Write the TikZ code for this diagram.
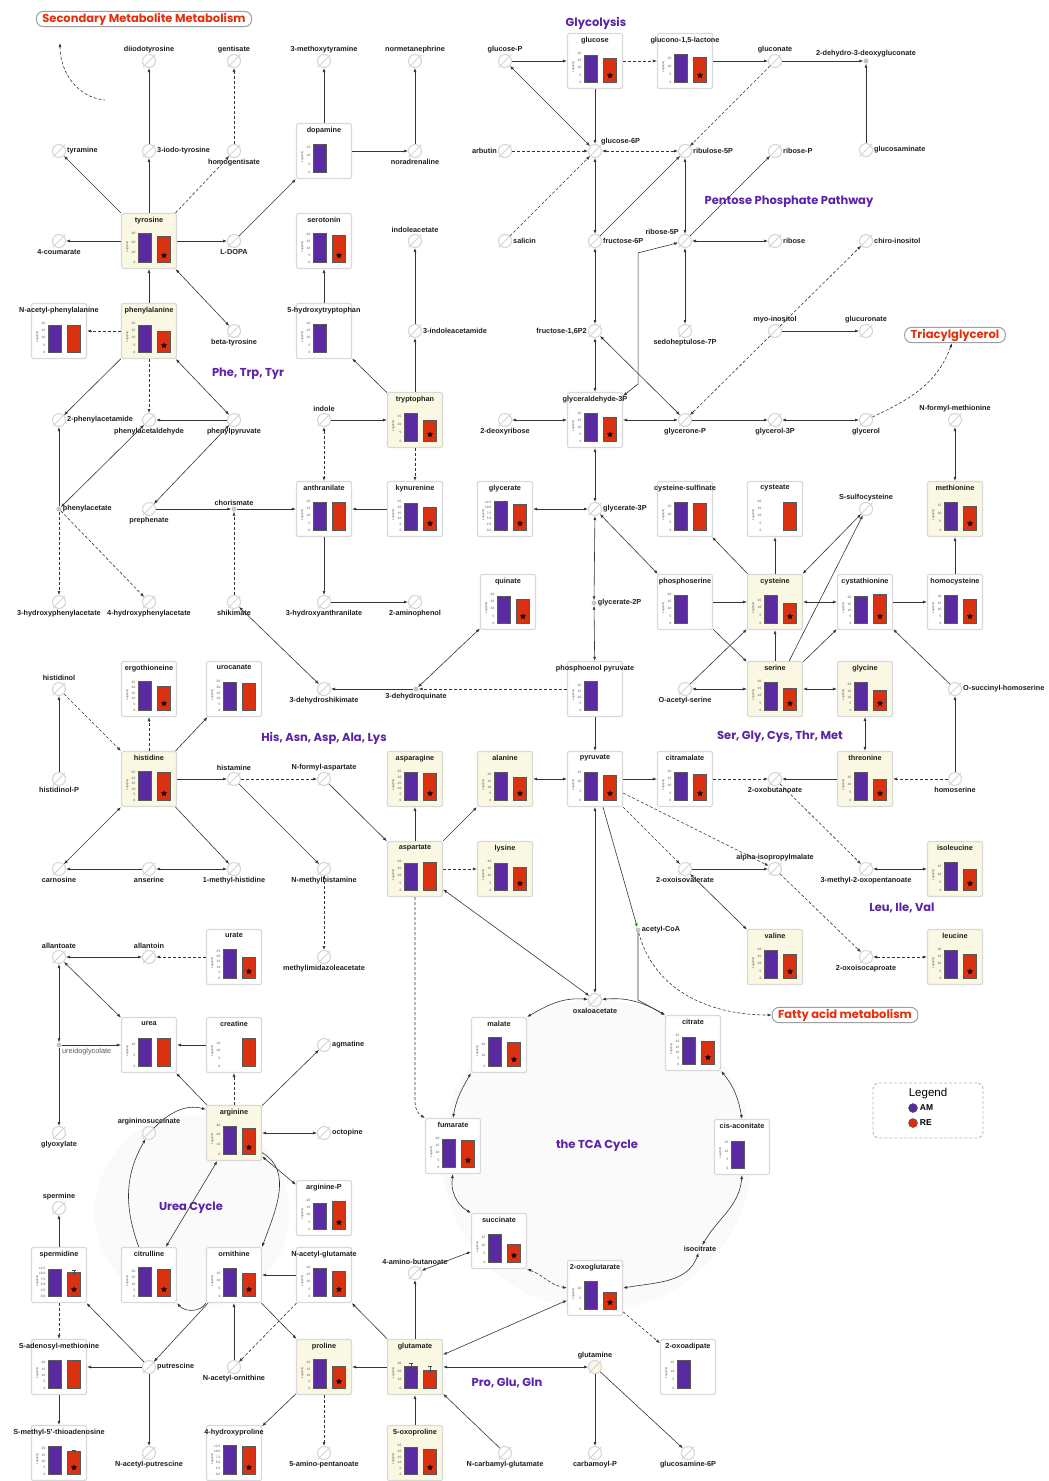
\documentclass[tikz,border=0pt]{standalone}
\usepackage{fontspec}
\setmainfont{Liberation Sans}
\newfontfamily\grpfont{Poppins}
\usetikzlibrary{positioning,arrows.meta,shapes.geometric}

\definecolor{amc}{HTML}{5A2BA0}
\definecolor{rec}{HTML}{DA3210}
\definecolor{creamc}{HTML}{FAF7E3}
\definecolor{boxc}{HTML}{D9D9D9}
\definecolor{voidc}{HTML}{D4D4D4}
\definecolor{linec}{HTML}{353535}
\definecolor{grpc}{HTML}{5B23A6}
\definecolor{titc}{HTML}{E2300C}
\definecolor{cyclec}{HTML}{FAFAFA}

% tick lists: value/label
\def\tkA{0/0,5/5,10/10,15/15,20/20}
\def\tkB{0/0,5/5,10/10,15/15}
\def\tkC{0/0,5/5,10/10,15/15,20/20,25/25}
\def\tkD{0/0,10/10,20/20,30/30}
\def\tkE{0/0.0,2.5/2.5,5/5.0,7.5/7.5,10/10.0,12.5/12.5}
\def\tkF{0/0,5/5,10/10}
\def\tkG{0/0,10/10,20/20}

% name, position, title, fill, ymax, ticks, AM, RE, star
\newcommand{\metab}[9]{%
  \node[mbox,#4,label={[ttl]north:#3}] (#1) at (#2) {};
  \foreach \v/\l in #6 {\path (#1.center) ++(-13,{-21+29*\v/#5}) node[ticklbl] {\l};}
  \path (#1.center) ++(-21.5,-6) node[ylab] {Log2(int)};
  \ifdim #7pt>0pt \draw[ambar] (#1.center) ++(-10.5,-21) rectangle ++(13,{29*#7/#5});\fi
  \ifdim #8pt>0pt \draw[rebar] (#1.center) ++(8.5,-21) rectangle ++(13,{29*#8/#5});\fi
  \ifnum #9=1 \path (#1.center) ++(15,-14.5) node[sigstar] {};\fi
}
% node, x offset, ymax, low, high
\newcommand{\errbar}[5]{%
  \draw[errb] (#1.center) ++(#2,{-21+29*#4/#3}) -- ++(0,{29*(#5-#4)/#3}) ++(-2,0) -- ++(4,0);
}

\begin{document}
\begin{tikzpicture}[x=1pt,y=1pt,
  >={Latex[length=4pt,width=3pt]},
  mbox/.style={draw=boxc,line width=1.2pt,rounded corners=2pt,minimum width=55pt,minimum height=55pt,inner sep=0pt},
  creambox/.style={fill=creamc},
  whitebox/.style={fill=white},
  ttl/.style={font=\fontsize{7.3}{8}\selectfont\bfseries,text=black!88,anchor=north,yshift=-3pt,inner sep=1pt},
  ticklbl/.style={font=\fontsize{3.2}{3.5}\selectfont,text=black!70,anchor=east,inner sep=0.5pt},
  ylab/.style={font=\fontsize{2.8}{3}\selectfont,text=black!70,rotate=90,inner sep=0pt},
  ambar/.style={fill=amc,draw=black!65,line width=0.35pt},
  rebar/.style={fill=rec,draw=black!65,line width=0.35pt},
  errb/.style={draw=black!70,line width=0.4pt},
  sigstar/.style={star,star points=5,star point ratio=2.3,fill=black,minimum size=6.5pt,inner sep=0pt},
  voidline/.style={draw=voidc,line width=1pt,shorten <=-2pt,shorten >=-2pt},
  voidnode/.style={circle,draw=voidc,line width=1pt,minimum size=13pt,inner sep=0pt,label distance=4.5pt,
    append after command={(\tikzlastnode.south west) edge[voidline] (\tikzlastnode.north east)}},
  minidot/.style={circle,fill=gray!45,minimum size=5pt,inner sep=0pt,label distance=2.5pt},
  lbl/.style={font=\fontsize{7.3}{8}\selectfont\bfseries,text=black!88,inner sep=1pt},
  conn/.style={draw=linec,line width=0.6pt,->},
  dconn/.style={conn,dash pattern=on 3pt off 2pt},
  biconn/.style={draw=linec,line width=0.6pt,<->},
  dbiconn/.style={biconn,dash pattern=on 3pt off 2pt},
  grp/.style={font=\grpfont\fontsize{11.5}{13}\selectfont\bfseries,text=grpc},
  pathbox/.style={draw=gray!75,line width=1pt,rounded corners=7pt,fill=white,text=titc,
    font=\grpfont\fontsize{11.5}{12}\selectfont\bfseries,inner xsep=6pt,inner ysep=1.5pt},
  legendbox/.style={draw=gray!55,dash pattern=on 3pt off 2pt,line width=0.9pt,rounded corners=6pt,minimum width=110pt,minimum height=55pt},
  legdot/.style={circle,draw=black!70,line width=0.4pt,minimum size=9pt,inner sep=0pt}]

\fill[white] (0,0) rectangle (1049,-1481);
\useasboundingbox (0,0) rectangle (1049,-1481);

% cycle backgrounds
\fill[cyclec] (597,-1155) circle[radius=155pt];
\fill[cyclec] (192,-1212) circle[radius=97pt];

% pathway titles
\node[pathbox] (secmet) at (144,-19) {Secondary Metabolite Metabolism};
\node[pathbox] (tag) at (955,-335) {Triacylglycerol};
\node[pathbox] (fam) at (845,-1015) {Fatty acid metabolism};
\node[grp] (glycol) at (596,-23) {Glycolysis};
\node[grp] (ppp) at (789,-202) {Pentose Phosphate Pathway};
\node[grp] (aroma) at (248,-374) {Phe, Trp, Tyr};
\node[grp] (hisgrp) at (324,-738) {His, Asn, Asp, Ala, Lys};
\node[grp] (sergrp) at (780,-737) {Ser, Gly, Cys, Thr, Met};
\node[grp] (bcaa) at (902,-908) {Leu, Ile, Val};
\node[grp] (ureacyc) at (191,-1208) {Urea Cycle};
\node[grp] (tca) at (597,-1146) {the TCA Cycle};
\node[grp] (glugrp) at (507,-1383) {Pro, Glu, Gln};

% measured metabolites
\metab{glc}{595,-61}{glucose}{whitebox}{20.5}{\tkA}{19}{16.5}{1}
\metab{glnl}{685,-61}{glucono-1,5-lactone}{whitebox}{18.5}{\tkB}{18}{16}{1}
\metab{dopa}{324,-151}{dopamine}{whitebox}{18}{\tkB}{17.5}{0}{0}
\metab{tyr}{149,-241}{tyrosine}{creambox}{30}{\tkD}{30}{27}{1}
\metab{sero}{324,-241}{serotonin}{whitebox}{21}{\tkA}{21}{19.5}{1}
\metab{phe}{149,-331}{phenylalanine}{creambox}{20.5}{\tkA}{19}{14.5}{1}
\metab{nacphe}{59,-331}{N-acetyl-phenylalanine}{whitebox}{20.5}{\tkA}{19}{19}{0}
\metab{htrp}{324,-331}{5-hydroxytryptophan}{whitebox}{20.5}{\tkA}{19.5}{0}{0}
\metab{trp}{415,-420}{tryptophan}{creambox}{17.5}{\tkB}{16.5}{12.5}{1}
\metab{gap}{595,-420}{glyceraldehyde-3P}{whitebox}{21}{\tkA}{20.5}{17}{1}
\metab{anth}{324,-509}{anthranilate}{whitebox}{20.5}{\tkA}{19.5}{20}{0}
\metab{kyn}{415,-509}{kynurenine}{whitebox}{25.5}{\tkC}{23.5}{20}{1}
\metab{glyc}{505,-509}{glycerate}{whitebox}{13}{\tkE}{13}{11.5}{1}
\metab{cysulf}{685,-509}{cysteine-sulfinate}{whitebox}{18.5}{\tkB}{17.5}{17}{0}
\metab{cyst}{775,-509}{cysteate}{whitebox}{20.5}{\tkA}{0}{19.5}{0}
\metab{met}{955,-509}{methionine}{creambox}{17.5}{\tkB}{16.5}{14.5}{1}
\metab{quin}{508,-602}{quinate}{whitebox}{20.5}{\tkA}{19}{17}{1}
\metab{pser}{685,-602}{phosphoserine}{whitebox}{20.5}{\tkA}{20}{0}{0}
\metab{cys}{775,-602}{cysteine}{creambox}{19}{\tkB}{18.5}{13}{1}
\metab{cysth}{865,-602}{cystathionine}{whitebox}{23}{\tkA}{21}{23}{1}
\metab{hcys}{955,-602}{homocysteine}{whitebox}{22}{\tkA}{21}{18}{1}
\metab{ergo}{149,-689}{ergothioneine}{whitebox}{26}{\tkC}{25.5}{21.5}{1}
\metab{uroc}{234,-689}{urocanate}{whitebox}{25.5}{\tkC}{24.5}{23.5}{0}
\metab{pep}{595,-689}{phosphoenol pyruvate}{whitebox}{23.5}{\tkA}{23}{0}{0}
\metab{ser}{775,-689}{serine}{creambox}{20.5}{\tkA}{20}{15.5}{1}
\metab{gly}{865,-689}{glycine}{creambox}{23}{\tkA}{22}{16}{1}
\metab{his}{149,-779}{histidine}{creambox}{26.5}{\tkC}{26}{25}{1}
\metab{asn}{415,-779}{asparagine}{creambox}{25.5}{\tkC}{24.5}{23.5}{1}
\metab{ala}{505,-779}{alanine}{creambox}{23}{\tkA}{22}{18}{1}
\metab{pyr}{595,-779}{pyruvate}{whitebox}{16}{\tkB}{15.5}{13.5}{1}
\metab{citm}{685,-779}{citramalate}{whitebox}{20.5}{\tkA}{20}{18}{1}
\metab{thr}{865,-779}{threonine}{creambox}{19}{\tkB}{18}{13.5}{1}
\metab{asp}{415,-869}{aspartate}{creambox}{20.5}{\tkA}{19}{19.5}{0}
\metab{lys}{505,-869}{lysine}{creambox}{20.5}{\tkA}{19}{16}{1}
\metab{ile}{955,-869}{isoleucine}{creambox}{18.5}{\tkB}{17.5}{13}{1}
\metab{val}{775,-957}{valine}{creambox}{20.5}{\tkA}{20}{16.5}{1}
\metab{leu}{955,-957}{leucine}{creambox}{20.5}{\tkA}{20}{16.5}{1}
\metab{urate}{234,-957}{urate}{whitebox}{27}{\tkC}{26.5}{19.5}{1}
\metab{urea}{149,-1045}{urea}{whitebox}{13.5}{\tkF}{13}{13}{0}
\metab{crea}{234,-1045}{creatine}{whitebox}{19}{\tkB}{0}{18}{0}
\metab{mal}{499,-1045}{malate}{whitebox}{27}{\tkG}{27}{22.5}{1}
\metab{cit}{693,-1043}{citrate}{whitebox}{25.5}{\tkC}{24}{20}{1}
\metab{arg}{234,-1133}{arginine}{creambox}{30}{\tkD}{28.5}{27}{1}
\metab{fum}{453,-1146}{fumarate}{whitebox}{20.5}{\tkA}{20}{19}{1}
\metab{cisac}{742,-1147}{cis-aconitate}{whitebox}{17}{\tkB}{16}{0}{0}
\metab{argp}{324,-1208}{arginine-P}{whitebox}{20.5}{\tkA}{18.5}{20}{1}
\metab{succ}{499,-1241}{succinate}{whitebox}{17.5}{\tkB}{17}{11}{1}
\metab{spmd}{59,-1275}{spermidine}{whitebox}{13}{\tkE}{12}{10.5}{1}
\metab{citr}{149,-1275}{citrulline}{whitebox}{24}{\tkA}{23.5}{22.5}{1}
\metab{orn}{234,-1275}{ornithine}{whitebox}{19}{\tkB}{18.5}{15}{1}
\metab{nacglu}{324,-1275}{N-acetyl-glutamate}{whitebox}{20.5}{\tkA}{20}{17.5}{1}
\metab{oxoglu}{595,-1288}{2-oxoglutarate}{whitebox}{14}{\tkF}{13.5}{8.2}{1}
\metab{sam}{59,-1367}{S-adenosyl-methionine}{whitebox}{23}{\tkA}{22}{22}{0}
\metab{pro}{324,-1367}{proline}{creambox}{23}{\tkA}{22.5}{17.5}{1}
\metab{glu}{415,-1367}{glutamate}{creambox}{35}{\tkD}{26}{22}{0}
\metab{oxoadip}{688,-1367}{2-oxoadipate}{whitebox}{17}{\tkB}{16.5}{0}{0}
\metab{mta}{59,-1453}{S-methyl-5'-thioadenosine}{whitebox}{23}{\tkA}{22}{18}{1}
\metab{hypro}{234,-1453}{4-hydroxyproline}{whitebox}{13}{\tkE}{13}{12.5}{1}
\metab{oxopro}{415,-1453}{5-oxoproline}{creambox}{25.5}{\tkC}{24}{22}{1}
\errbar{glu}{-4}{35}{22}{30}
\errbar{glu}{15}{35}{18}{26}
\errbar{spmd}{15}{13}{9.5}{11.5}
\errbar{mta}{15}{23}{17}{19}

% not measured
\node[voidnode,label={[lbl]above:diiodotyrosine}] (diiodo) at (149,-61) {};
\node[voidnode,label={[lbl]above:gentisate}] (gentis) at (234,-61) {};
\node[voidnode,label={[lbl]above:3-methoxytyramine}] (methoxy) at (324,-61) {};
\node[voidnode,label={[lbl]above:normetanephrine}] (normet) at (415,-61) {};
\node[voidnode,label={[lbl]above:glucose-P}] (glcp) at (505,-61) {};
\node[voidnode,label={[lbl]above:gluconate}] (gluconate) at (775,-61) {};
\node[minidot,label={[lbl]above:2-dehydro-3-deoxygluconate}] (dhdg) at (866,-61) {};
\node[voidnode,label={[lbl]right:tyramine}] (tyramine) at (59,-151) {};
\node[voidnode,label={[lbl]right:3-iodo-tyrosine}] (iodotyr) at (149,-151) {};
\node[voidnode,label={[lbl]below:homogentisate}] (homogen) at (234,-151) {};
\node[voidnode,label={[lbl]below:noradrenaline}] (noradr) at (415,-151) {};
\node[voidnode,label={[lbl]left:arbutin}] (arbutin) at (505,-151) {};
\node[voidnode,label={[lbl]above right:glucose-6P}] (g6p) at (595,-151) {};
\node[voidnode,label={[lbl]right:ribulose-5P}] (ru5p) at (685,-151) {};
\node[voidnode,label={[lbl]right:ribose-P}] (ribp) at (775,-151) {};
\node[voidnode,label={[lbl]right:glucosaminate}] (glcnt) at (866,-150) {};
\node[voidnode,label={[lbl]below:4-coumarate}] (coum) at (59,-241) {};
\node[voidnode,label={[lbl]below:L-DOPA}] (ldopa) at (234,-241) {};
\node[voidnode,label={[lbl]above:indoleacetate}] (iaa) at (415,-241) {};
\node[voidnode,label={[lbl]right:salicin}] (salicin) at (505,-241) {};
\node[voidnode,label={[lbl]right:fructose-6P}] (f6p) at (595,-241) {};
\node[voidnode,label={[lbl]above left:ribose-5P}] (r5p) at (685,-241) {};
\node[voidnode,label={[lbl]right:ribose}] (ribose) at (775,-241) {};
\node[voidnode,label={[lbl]right:chiro-inositol}] (chiro) at (866,-241) {};
\node[voidnode,label={[lbl]below:beta-tyrosine}] (btyr) at (234,-331) {};
\node[voidnode,label={[lbl]right:3-indoleacetamide}] (iam) at (415,-331) {};
\node[voidnode,label={[lbl]left:fructose-1,6P2}] (fbp) at (595,-331) {};
\node[voidnode,label={[lbl]below:sedoheptulose-7P}] (s7p) at (685,-331) {};
\node[voidnode,label={[lbl]above:myo-inositol}] (myo) at (775,-331) {};
\node[voidnode,label={[lbl]above:glucuronate}] (glcur) at (866,-331) {};
\node[voidnode,label={[lbl]right:2-phenylacetamide}] (pacm) at (59,-420) {};
\node[voidnode,label={[lbl]below:phenylacetaldehyde}] (pacald) at (149,-420) {};
\node[voidnode,label={[lbl]below:phenylpyruvate}] (ppyr) at (234,-420) {};
\node[voidnode,label={[lbl]above:indole}] (indole) at (324,-420) {};
\node[voidnode,label={[lbl]below:2-deoxyribose}] (dribose) at (505,-420) {};
\node[voidnode,label={[lbl]below:glycerone-P}] (dhap) at (685,-420) {};
\node[voidnode,label={[lbl]below:glycerol-3P}] (g3p) at (775,-420) {};
\node[voidnode,label={[lbl]below:glycerol}] (glycerol) at (866,-420) {};
\node[voidnode,label={[lbl]above:N-formyl-methionine}] (fmet) at (955,-420) {};
\node[minidot,label={[lbl]right:phenylacetate}] (pac) at (59,-509) {};
\node[voidnode,label={[lbl]below:prephenate}] (preph) at (149,-509) {};
\node[minidot,label={[lbl]above:chorismate}] (chor) at (234,-509) {};
\node[voidnode,label={[lbl]right:glycerate-3P}] (pgt) at (595,-509) {};
\node[voidnode,label={[lbl]above:S-sulfocysteine}] (sulfocys) at (866,-509) {};
\node[voidnode,label={[lbl]below:3-hydroxyphenylacetate}] (hpacm) at (59,-602) {};
\node[voidnode,label={[lbl]below:4-hydroxyphenylacetate}] (hpacp) at (149,-602) {};
\node[voidnode,label={[lbl]below:shikimate}] (shik) at (234,-602) {};
\node[voidnode,label={[lbl]below:3-hydroxyanthranilate}] (haa) at (324,-602) {};
\node[voidnode,label={[lbl]below:2-aminophenol}] (amphen) at (415,-602) {};
\node[minidot,label={[lbl]right:glycerate-2P}] (pgs) at (594,-603) {};
\node[voidnode,label={[lbl]above:histidinol}] (hisol) at (59,-689) {};
\node[voidnode,label={[lbl]below:3-dehydroshikimate}] (dhs) at (324,-689) {};
\node[minidot,label={[lbl]below:3-dehydroquinate}] (dhq) at (416,-689) {};
\node[voidnode,label={[lbl]below:O-acetyl-serine}] (oaser) at (685,-689) {};
\node[voidnode,label={[lbl]right:O-succinyl-homoserine}] (osuhs) at (955,-689) {};
\node[voidnode,label={[lbl]below:histidinol-P}] (hisolp) at (59,-779) {};
\node[voidnode,label={[lbl]above:histamine}] (hist) at (234,-779) {};
\node[voidnode,label={[lbl]above:N-formyl-aspartate}] (fasp) at (324,-779) {};
\node[voidnode,label={[lbl]below:2-oxobutanoate}] (obut) at (775,-779) {};
\node[voidnode,label={[lbl]below:homoserine}] (hser) at (955,-779) {};
\node[voidnode,label={[lbl]below:carnosine}] (carn) at (59,-869) {};
\node[voidnode,label={[lbl]below:anserine}] (anser) at (149,-869) {};
\node[voidnode,label={[lbl]below:1-methyl-histidine}] (mhis) at (234,-869) {};
\node[voidnode,label={[lbl]below:N-methylhistamine}] (mhist) at (324,-869) {};
\node[voidnode,label={[lbl]below:2-oxoisovalerate}] (oiv) at (685,-869) {};
\node[voidnode,label={[lbl]above:alpha-isopropylmalate}] (aipm) at (775,-869) {};
\node[voidnode,label={[lbl]below:3-methyl-2-oxopentanoate}] (mop) at (866,-869) {};
\node[minidot,label={[lbl]right:acetyl-CoA}] (acoa) at (638,-930) {};
\node[voidnode,label={[lbl]above:allantoate}] (allant) at (59,-957) {};
\node[voidnode,label={[lbl]above:allantoin}] (allan) at (149,-957) {};
\node[voidnode,label={[lbl]below:methylimidazoleacetate}] (mimaa) at (324,-957) {};
\node[voidnode,label={[lbl]below:2-oxoisocaproate}] (oic) at (866,-957) {};
\node[voidnode,label={[lbl]below:oxaloacetate}] (oaa) at (595,-1000) {};
\node[minidot,label={[lbl,font=\fontsize{7.3}{8}\selectfont,text=black!65]below right:ureidoglycolate}] (ureid) at (59,-1045) {};
\node[voidnode,label={[lbl]right:agmatine}] (agm) at (324,-1045) {};
\node[voidnode,label={[lbl]above:argininosuccinate}] (argsucc) at (149,-1133) {};
\node[voidnode,label={[lbl]right:octopine}] (octo) at (324,-1133) {};
\node[voidnode,label={[lbl]below:glyoxylate}] (glyox) at (59,-1133) {};
\node[voidnode,label={[lbl]above:spermine}] (spm) at (59,-1208) {};
\node[voidnode,label={[lbl]above:4-amino-butanoate}] (gaba) at (415,-1273) {};
\node[lbl] (isocit) at (700,-1249) {isocitrate};
\node[voidnode,label={[lbl]right:putrescine}] (put) at (149,-1367) {};
\node[voidnode,label={[lbl]below:N-acetyl-ornithine}] (naorn) at (234,-1367) {};
\node[voidnode,fill=creamc,label={[lbl]above:glutamine}] (gln) at (595,-1367) {};
\node[voidnode,label={[lbl]below:N-acetyl-putrescine}] (naput) at (149,-1453) {};
\node[voidnode,label={[lbl]below:5-amino-pentanoate}] (apent) at (324,-1453) {};
\node[voidnode,label={[lbl]below:N-carbamyl-glutamate}] (ncglu) at (505,-1453) {};
\node[voidnode,label={[lbl]below:carbamoyl-P}] (carbp) at (595,-1453) {};
\node[voidnode,label={[lbl]below:glucosamine-6P}] (gnsp) at (688,-1453) {};
\coordinate (secA) at (60,-43);
\coordinate (secB) at (105,-100);

% legend
\node[legendbox] (legend) at (928,-1110.5) {};
\node[font=\fontsize{11.5}{13}\selectfont] (legtitle) at (928,-1094) {Legend};
\node[legdot,fill=amc] (legam) at (913,-1108) {};
\node[right=1pt of legam,font=\fontsize{8.5}{9}\selectfont\bfseries,inner sep=1pt] (legamt) {AM};
\node[legdot,fill=rec] (legre) at (913,-1123) {};
\node[right=1pt of legre,font=\fontsize{8.5}{9}\selectfont\bfseries,inner sep=1pt] (legret) {RE};

% Phe, Trp, Tyr and secondary
\draw[dconn,<-] (secA) to[out=-90,in=175] (secB);
\draw[conn] (tyr) -- (tyramine);
\draw[conn] (tyr) -- (iodotyr);
\draw[conn] (iodotyr) -- (diiodo);
\draw[dconn] (tyr) -- (homogen);
\draw[dconn] (homogen) -- (gentis);
\draw[conn] (tyr) -- (coum);
\draw[conn] (tyr) -- (ldopa);
\draw[conn] (ldopa) -- (dopa);
\draw[conn] (dopa) -- (methoxy);
\draw[conn] (dopa) -- (noradr);
\draw[conn] (noradr) -- (normet);
\draw[conn] (phe) -- (tyr);
\draw[biconn] (tyr) -- (btyr);
\draw[dconn] (phe) -- (nacphe);
\draw[conn] (htrp) -- (sero);
\draw[conn] (phe) -- (pacm);
\draw[dconn] (phe) -- (pacald);
\draw[biconn] (phe) -- (ppyr);
\draw[conn] (ppyr) -- (pacald);
\draw[conn] (pac) -- (pacm);
\draw[biconn] (pacald) -- (pac);
\draw[biconn] (preph) -- (ppyr);
\draw[conn] (preph) -- (chor);
\draw[conn] (chor) -- (anth);
\draw[dconn] (shik) -- (chor);
\draw[dconn] (pac) -- (hpacm);
\draw[dconn] (pac) -- (hpacp);
\draw[biconn] (shik) -- (dhs);
\draw[dbiconn] (indole) -- (anth);
\draw[conn] (indole) -- (trp);
\draw[conn] (trp) -- (htrp);
\draw[conn] (trp) -- (iam);
\draw[conn] (iam) -- (iaa);
\draw[dconn] (trp) -- (kyn);
\draw[conn] (kyn) -- (anth);
\draw[conn] (anth) -- (haa);
\draw[conn] (haa) -- (amphen);
\draw[biconn] (quin) -- (dhq);
\draw[dconn] (pep) -- (dhq);
\draw[conn] (dhq) -- (dhs);

% glycolysis, pentose phosphate
\draw[conn] (glcp) -- (glc);
\draw[biconn] (glcp) -- (g6p);
\draw[conn] (glc) -- (g6p);
\draw[dconn] (glc) -- (glnl);
\draw[conn] (glnl) -- (gluconate);
\draw[conn] (gluconate) -- (dhdg);
\draw[conn] (glcnt) -- (dhdg);
\draw[dconn] (arbutin) -- (g6p);
\draw[dconn] (salicin) -- (g6p);
\draw[dbiconn] (g6p) -- (ru5p);
\draw[dconn] (gluconate) -- (ru5p);
\draw[biconn] (g6p) -- (f6p);
\draw[conn] (f6p) -- (ru5p);
\draw[biconn] (ru5p) -- (r5p);
\draw[conn] (r5p) -- (ribp);
\draw[biconn] (r5p) -- (ribose);
\draw[biconn] (r5p) -- (s7p);
\draw[biconn] (f6p) -- (fbp);
\draw[biconn] (fbp) -- (gap);
\draw[biconn] ([yshift=-4pt]gap.north east) -- ++(15,12) -- ++(0,131) -- (r5p);
\draw[biconn] (fbp) -- (dhap);
\draw[biconn] (gap) -- (dribose);
\draw[biconn] (gap) -- (dhap);
\draw[conn] (dhap) -- (g3p);
\draw[biconn] (g3p) -- (glycerol);
\draw[dconn] (myo) -- (chiro);
\draw[conn] (myo) -- (glcur);
\draw[dconn] (myo) -- (dhap);
\draw[dconn] (glycerol) to[out=25,in=-110] (tag);
\draw[biconn] (gap) -- (pgt);
\draw[biconn] (glyc) -- (pgt);
\draw[biconn] (pgt) -- (pser);
\draw[biconn] (pgt) -- (pgs);
\draw[biconn] (pgs) -- (pep);
\draw[conn] (pep) -- (pyr);

% Ser, Gly, Cys, Thr, Met / Leu, Ile, Val
\draw[conn] (pser) -- (cys);
\draw[conn] (pser) -- (ser);
\draw[conn] (oaser) -- (cys);
\draw[biconn] (oaser) -- (ser);
\draw[conn] (cys) -- (cysulf);
\draw[conn] (cys) -- (cyst);
\draw[biconn] (sulfocys) -- (cys);
\draw[conn] (ser) -- (sulfocys);
\draw[biconn] (cys) -- (cysth);
\draw[conn] (ser) -- (cys);
\draw[conn] (ser) -- (cysth);
\draw[biconn] (ser) -- (gly);
\draw[conn] (cysth) -- (hcys);
\draw[conn] (hcys) -- (met);
\draw[biconn] (met) -- (fmet);
\draw[conn] (osuhs) -- (cysth);
\draw[conn] (hser) -- (osuhs);
\draw[dconn] (hser) -- (thr);
\draw[biconn] (gly) -- (thr);
\draw[conn] (thr) -- (obut);
\draw[dconn] (citm) -- (obut);
\draw[conn] (pyr) -- (citm);
\draw[dconn] (obut) -- (mop);
\draw[biconn] (mop) -- (ile);
\draw[dconn] (pyr) -- (aipm);
\draw[dconn] (pyr) -- (oiv);
\draw[conn] (oiv) -- (aipm);
\draw[biconn] (oiv) -- (val);
\draw[dconn] (aipm) -- (oic);
\draw[dbiconn] (oic) -- (leu);

% TCA cycle
\draw[draw=linec,line width=0.6pt,-{Latex[length=4pt,width=3pt,color=green!65!black]}] (pyr) -- (acoa);
\draw[conn] (acoa) -- ++(0,-70) -- (cit.north west);
\draw[dconn] (acoa) to[out=-75,in=180] (fam);
\draw[biconn] (pyr) -- (oaa);
\draw[biconn] (oaa) to[out=5,in=150] (cit.north west);
\draw[biconn] (oaa) to[out=175,in=30] (mal.north east);
\draw[biconn] (asp) -- (oaa);
\draw[dconn] (asp.south) -- ++(0,-205) to[out=-90,in=150] (fum.north west);
\draw[biconn] (mal.south west) to[out=-120,in=80] (fum.north);
\draw[biconn] (fum.south) to[out=-100,in=150] (succ.north west);
\draw[dbiconn] (succ.south east) to[out=-20,in=170] (oxoglu.west);
\draw[biconn] (cit.south east) to[out=-50,in=100] (cisac.north);
\draw[biconn] (cisac.south) to[out=-95,in=60] (isocit);
\draw[biconn] (isocit) to[out=-110,in=10] (oxoglu.east);
\draw[biconn] (gaba) -- (succ);
\draw[conn] (glu) -- (gaba);
\draw[biconn] (glu) -- (oxoglu);
\draw[dconn] (oxoglu) -- (oxoadip);
\draw[conn] (glu) -- (pro);
\draw[conn] (glu) -- (nacglu);
\draw[biconn] (glu) -- (gln);
\draw[conn] (ncglu) -- (glu);
\draw[conn] (oxopro) -- (glu);
\draw[conn] (gln) -- (carbp);
\draw[conn] (gln) -- (gnsp);

% His, Asn, Asp, Ala, Lys and urea cycle
\draw[dconn] (hisol) -- (his);
\draw[conn] (hisolp) -- (hisol);
\draw[dconn] (his) -- (ergo);
\draw[conn] (his) -- (uroc);
\draw[conn] (his) -- (hist);
\draw[dconn] (hist) -- (fasp);
\draw[conn] (fasp) -- (asp);
\draw[conn] (hist) -- (mhist);
\draw[dconn] (mhist) -- (mimaa);
\draw[biconn] (his) -- (carn);
\draw[conn] (his) -- (mhis);
\draw[conn] (anser) -- (carn);
\draw[biconn] (anser) -- (mhis);
\draw[conn] (asp) -- (asn);
\draw[conn] (asp) -- (ala);
\draw[dconn] (asp) -- (lys);
\draw[biconn] (ala) -- (pyr);
\draw[dconn] (urate) -- (allan);
\draw[biconn] (allan) -- (allant);
\draw[biconn] (allant) -- (urea);
\draw[biconn] (allant) -- (ureid);
\draw[conn] (ureid) -- (urea);
\draw[conn] (ureid) -- (glyox);
\draw[conn] (crea) -- (urea);
\draw[dconn] (arg) -- (crea);
\draw[conn] (arg) -- (urea);
\draw[conn] (argsucc) to[out=45,in=165] (arg.140);
\draw[conn] (citr.110) to[out=110,in=-120] (argsucc);
\draw[biconn] (arg) -- (citr);
\draw[conn] (arg.-35) to[out=-30,in=70] (orn.45);
\draw[biconn] (arg) -- (argp);
\draw[biconn] (arg) -- (octo);
\draw[conn] (arg) -- (agm);
\draw[conn] (orn.south west) to[out=-120,in=-50] (citr.south east);
\draw[conn] (nacglu) -- (orn);
\draw[dconn] (nacglu) -- (naorn);
\draw[conn] (naorn) -- (orn);
\draw[conn] (orn) -- (pro);
\draw[conn] (orn) -- (put);
\draw[conn] (put) -- (spmd);
\draw[conn] (spmd) -- (spm);
\draw[dconn] (spmd) -- (sam);
\draw[conn] (put) -- (sam);
\draw[conn] (sam) -- (mta);
\draw[conn] (put) -- (naput);
\draw[conn] (pro) -- (hypro);
\draw[dconn] (pro) -- (apent);
\end{tikzpicture}
\end{document}
